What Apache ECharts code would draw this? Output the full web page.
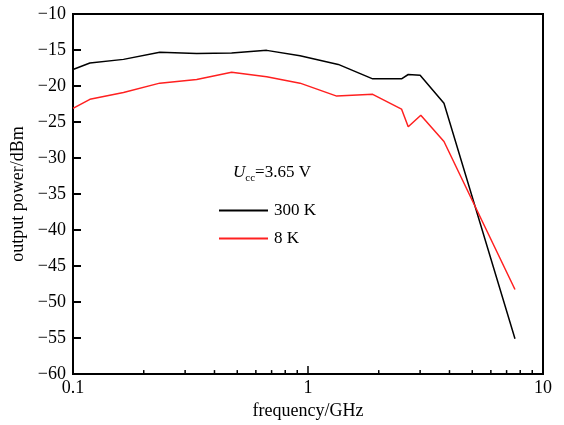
<!DOCTYPE html>
<html><head><meta charset="utf-8">
<script src="https://cdn.jsdelivr.net/npm/echarts@6/dist/echarts.min.js"></script>
<style>html,body{margin:0;padding:0;background:#fff}#c{width:564px;height:425px}</style>
</head><body><div id="c"></div>
<script>
var freq300 = [0.1, 0.118, 0.164, 0.234, 0.336, 0.473, 0.667, 0.925, 1.345, 1.885, 2.5, 2.67, 3.0, 3.79, 7.6];
var pow300  = [-17.7, -16.8, -16.3, -15.3, -15.5, -15.4, -15.05, -15.8, -17.0, -19.0, -19.0, -18.4, -18.5, -22.4, -55.1];
var freq8   = [0.1, 0.118, 0.164, 0.234, 0.336, 0.473, 0.667, 0.925, 1.325, 1.885, 2.5, 2.67, 3.02, 3.79, 7.6];
var pow8    = [-23.1, -21.85, -20.9, -19.6, -19.1, -18.1, -18.7, -19.6, -21.4, -21.15, -23.2, -25.66, -24.05, -27.7, -48.25];
var minorTickValues = [0.2,0.3,0.4,0.5,0.6,0.7,0.8,0.9,2,3,4,5,6,7,8,9];
var xLabels = [0.1, 1, 10];
var seriesNames = ['300 K', '8 K'];

function zip(a,b){ return a.map(function(v,i){ return [v,b[i]]; }); }
var font = 'Liberation Serif';
var chart = echarts.init(document.getElementById('c'), null, {renderer:'canvas'});
chart.setOption({
  animation:false,
  backgroundColor:'#fff',
  grid:{left:73, right:21, top:14, bottom:48, show:true, borderColor:'#000', borderWidth:2},
  title:{
    text:'{i|U}{s|cc}{n|=3.65 V}',
    left:228, top:156,
    textStyle:{
      fontWeight:'normal',
      rich:{
        i:{fontFamily:font, fontStyle:'italic', fontWeight:'normal', fontSize:17, color:'#000'},
        s:{fontFamily:font, fontWeight:'normal', fontSize:11, color:'#000', padding:[12,0,0,0]},
        n:{fontFamily:font, fontWeight:'normal', fontSize:17, color:'#000'}
      }
    }
  },
  legend:{
    orient:'vertical', left:214, top:197,
    itemWidth:49, itemHeight:2, itemGap:11,
    icon:'rect',
    textStyle:{fontFamily:font, fontSize:17, color:'#000', padding:[0,0,0,1]},
    data:seriesNames
  },
  xAxis:{
    type:'log', logBase:10, min:0.1, max:10,
    name:'frequency/GHz', nameLocation:'middle', nameGap:22,
    nameTextStyle:{fontFamily:font, fontSize:18, color:'#000'},
    axisLine:{lineStyle:{color:'#000', width:2}},
    axisTick:{inside:true, length:8, lineStyle:{color:'#000', width:1.5}},
    axisLabel:{fontFamily:font, fontSize:18, color:'#000', margin:5,
      formatter:function(v){ return xLabels.indexOf(+v)>=0 ? String(+v) : ''; }},
    splitLine:{show:false}
  },
  yAxis:{
    type:'value', min:-60, max:-10, interval:5,
    name:'output power/dBm', nameLocation:'middle', nameGap:39,
    nameTextStyle:{fontFamily:font, fontSize:18, color:'#000'},
    axisLine:{lineStyle:{color:'#000', width:2}},
    axisTick:{inside:true, length:8, lineStyle:{color:'#000', width:2}},
    axisLabel:{fontFamily:font, fontSize:18, color:'#000', margin:7,
      formatter:function(v){ return v<0 ? '\u2212'+Math.abs(v) : String(v); }},
    splitLine:{show:false}
  },
  series:[
    {name:seriesNames[0], type:'line', data:zip(freq300,pow300), symbol:'none',
     lineStyle:{color:'#000', width:1.5}, itemStyle:{color:'#000'}},
    {name:seriesNames[1], type:'line', data:zip(freq8,pow8), symbol:'none',
     lineStyle:{color:'#ff2020', width:1.5}, itemStyle:{color:'#ff2020'}},
    {type:'custom', silent:true, data:minorTickValues.map(function(v){return [v,-60];}),
     renderItem:function(params, api){
       var p = api.coord([api.value(0), api.value(1)]);
       return {type:'line', shape:{x1:p[0], y1:p[1], x2:p[0], y2:p[1]-4},
               style:{stroke:'#000', lineWidth:1.5}};
     }}
  ]
});
</script></body></html>
